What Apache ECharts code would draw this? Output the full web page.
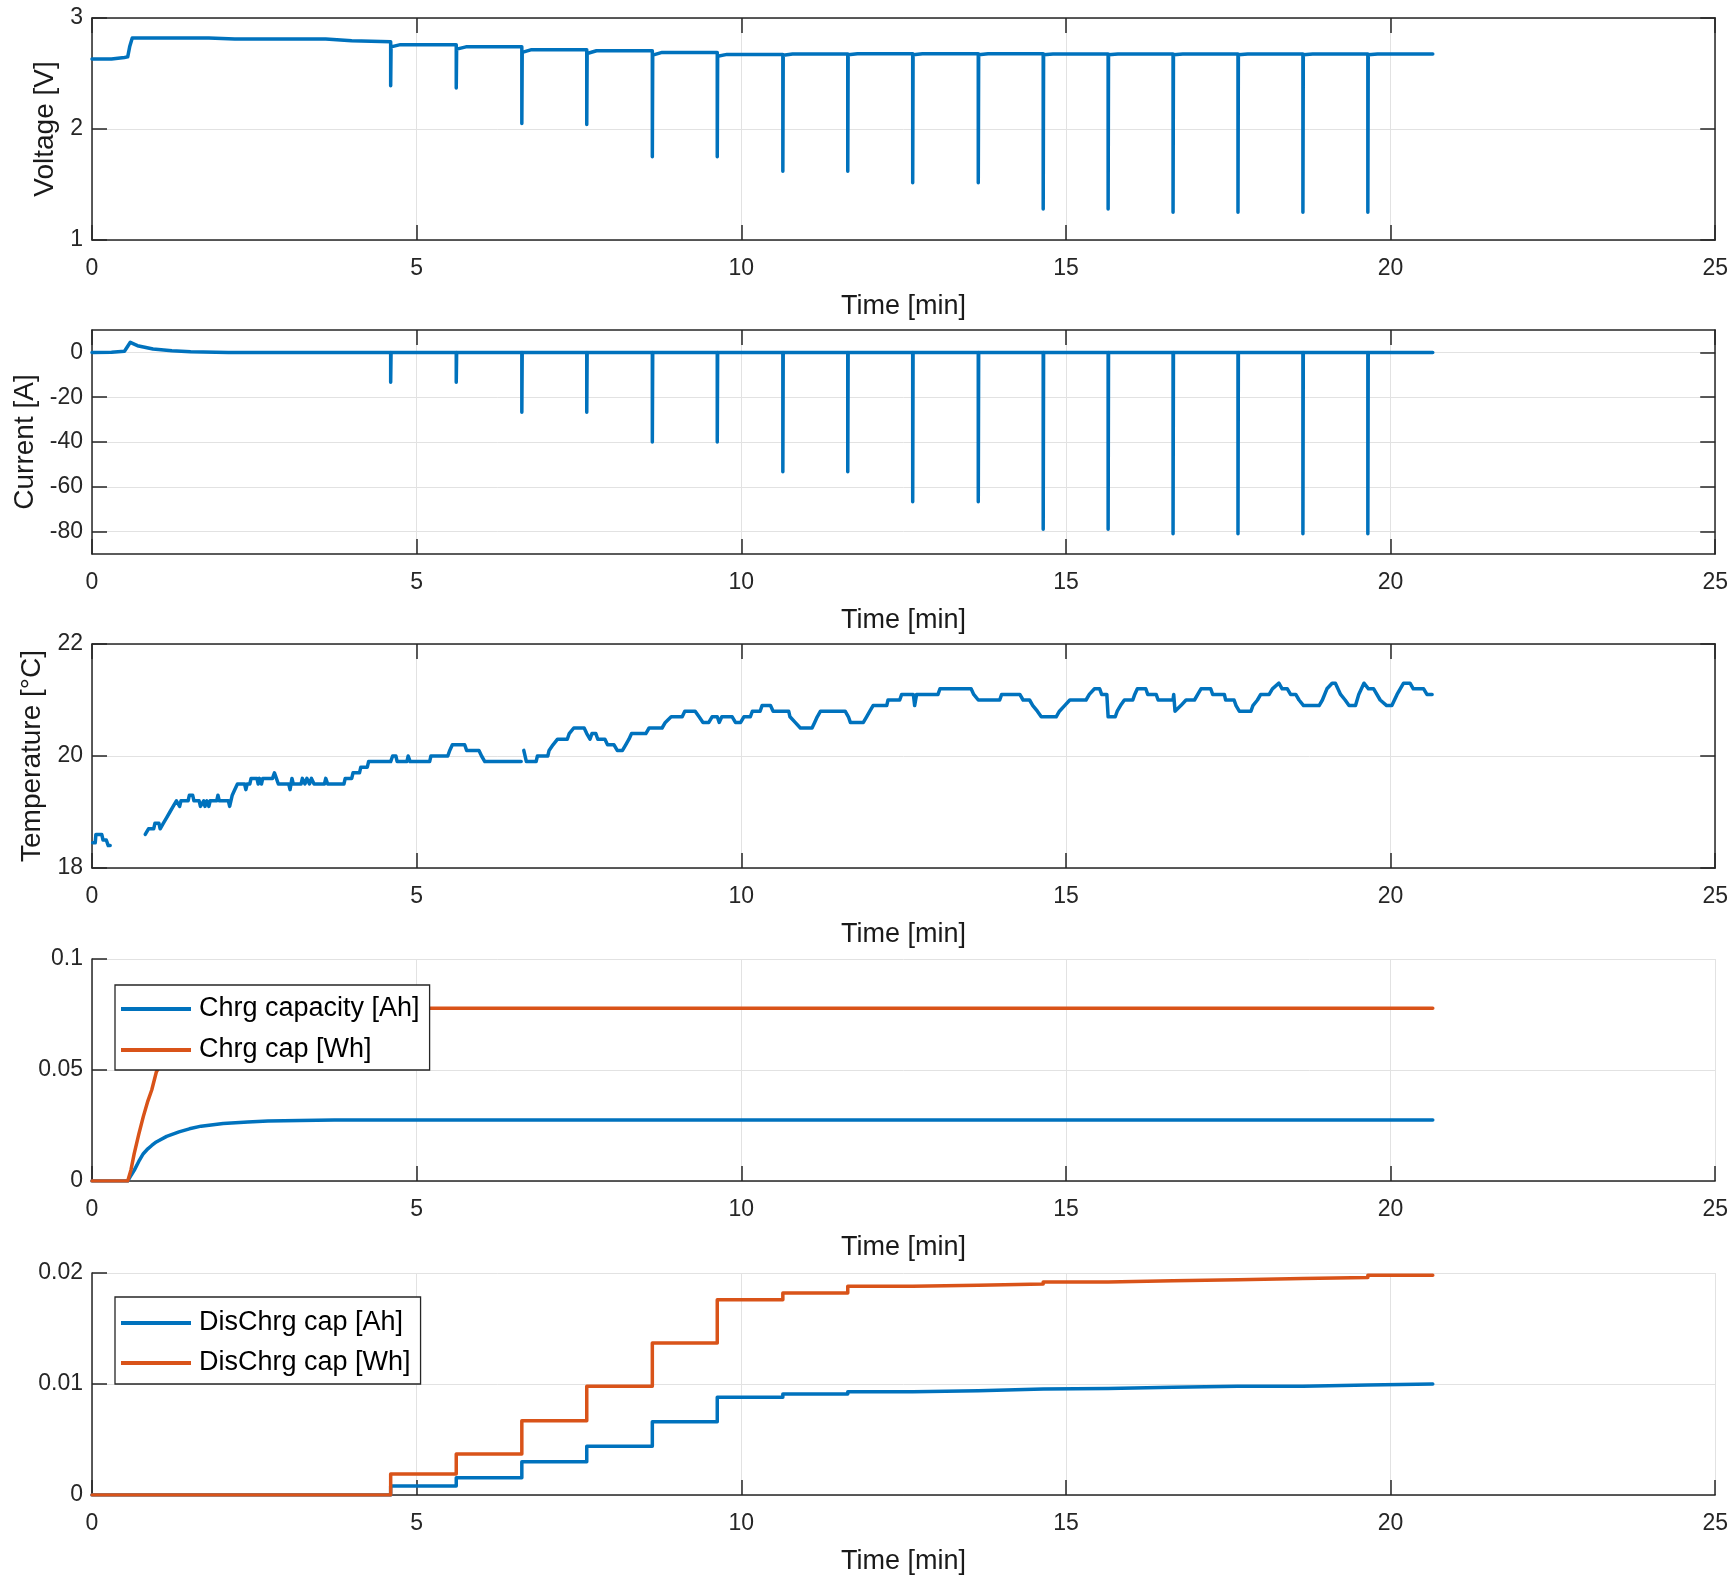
<!DOCTYPE html>
<html>
<head>
<meta charset="utf-8">
<script src="https://cdn.jsdelivr.net/npm/echarts@6/dist/echarts.min.js"></script>
<style>
  html, body { margin: 0; padding: 0; background: #ffffff; }
  #chart { width: 1731px; height: 1578px; }
</style>
</head>
<body>
<div id="chart"></div>
<script>
// ---- Pulse test log (time in minutes) ----
const endTime = 20.65;
const pulseTimes = [4.60, 5.61, 6.62, 7.62, 8.63, 9.63, 10.64, 11.64, 12.64, 13.65, 14.65, 15.65, 16.65, 17.65, 18.65, 19.65];

// Voltage [V]
const voltageStartTime  = [0, 0.30, 0.50, 0.55, 0.58, 0.62, 1.80, 2.20, 3.60, 4.00, 4.60];
const voltageStartValue = [2.63, 2.63, 2.645, 2.65, 2.74, 2.82, 2.82, 2.81, 2.81, 2.795, 2.785];
const voltagePulseMin   = [2.39, 2.37, 2.05, 2.04, 1.75, 1.75, 1.62, 1.62, 1.515, 1.515, 1.28, 1.28, 1.25, 1.25, 1.25, 1.25];
const voltageAfterPulse = [2.74, 2.72, 2.69, 2.68, 2.665, 2.655, 2.665, 2.668, 2.668, 2.668, 2.668, 2.668, 2.668, 2.668, 2.668, 2.668];
const voltageRest       = [2.76, 2.74, 2.715, 2.705, 2.69, 2.672, 2.676, 2.677, 2.677, 2.677, 2.676, 2.676, 2.676, 2.676, 2.676, 2.676];

// Current [A]
const currentStartTime  = [0, 0.30, 0.50, 0.53, 0.59, 0.70, 0.94, 1.23, 1.52, 2.10, 4.60];
const currentStartValue = [0, 0.1, 0.5, 0.6, 4.5, 3.0, 1.5, 0.75, 0.3, 0, 0];
const currentPulseMin   = [-13.3, -13.3, -26.7, -26.7, -40, -40, -53.3, -53.3, -66.7, -66.7, -79, -79, -81, -81, -81, -81];
const currentTicks      = [-80, -60, -40, -20, 0];

// Temperature [°C] readings as [time, value]; null marks a logging gap
const temperatureReadings = [
  [0.01,18.45],[0.05,18.45],[0.06,18.6],[0.15,18.6],[0.17,18.5],[0.22,18.5],[0.25,18.4],[0.28,18.4],
  [0.55,null],
  [0.82,18.6],[0.85,18.6],[0.87,18.7],[0.95,18.7],[0.97,18.8],[1.03,18.8],[1.05,18.7],[1.08,18.7],[1.10,18.8],[1.13,18.8],
  [1.15,18.9],[1.18,18.9],[1.20,19.0],[1.23,19.0],[1.25,19.1],[1.28,19.1],[1.30,19.2],[1.33,19.2],[1.35,19.1],[1.37,19.2],
  [1.48,19.2],[1.50,19.3],[1.55,19.3],[1.57,19.2],[1.65,19.2],[1.67,19.1],[1.70,19.1],[1.72,19.2],[1.74,19.1],[1.77,19.2],
  [1.80,19.1],[1.82,19.2],[1.92,19.2],[1.94,19.3],[1.96,19.2],[2.10,19.2],[2.12,19.1],[2.14,19.1],[2.16,19.3],[2.20,19.4],
  [2.24,19.5],[2.35,19.5],[2.37,19.4],[2.39,19.5],[2.43,19.5],[2.45,19.6],[2.54,19.6],[2.56,19.5],[2.58,19.6],[2.61,19.5],
  [2.63,19.6],[2.78,19.6],[2.81,19.7],[2.84,19.6],[2.87,19.5],[3.03,19.5],[3.05,19.4],[3.08,19.6],[3.10,19.5],[3.22,19.5],
  [3.24,19.6],[3.28,19.5],[3.31,19.6],[3.35,19.5],[3.38,19.6],[3.42,19.5],[3.58,19.5],[3.60,19.6],[3.63,19.5],[3.88,19.5],
  [3.90,19.6],[4.00,19.6],[4.02,19.7],[4.12,19.7],[4.14,19.8],[4.24,19.8],[4.26,19.9],[4.60,19.9],[4.63,20.0],[4.68,20.0],
  [4.70,19.9],[4.85,19.9],[4.87,20.0],[4.90,19.9],[5.20,19.9],[5.22,20.0],[5.48,20.0],[5.51,20.1],[5.55,20.2],[5.74,20.2],
  [5.77,20.1],[5.96,20.1],[6.00,20.0],[6.05,19.9],[6.61,19.9],
  [6.63,null],
  [6.65,20.1],[6.69,19.9],[6.84,19.9],[6.86,20.0],[7.02,20.0],[7.04,20.1],[7.10,20.2],[7.17,20.3],[7.32,20.3],[7.35,20.4],
  [7.42,20.5],[7.58,20.5],[7.62,20.4],[7.67,20.3],[7.70,20.4],[7.76,20.4],[7.79,20.3],[7.90,20.3],[7.94,20.2],[8.04,20.2],
  [8.09,20.1],[8.17,20.1],[8.22,20.2],[8.27,20.3],[8.31,20.4],[8.53,20.4],[8.58,20.5],[8.78,20.5],[8.83,20.6],[8.92,20.7],
  [9.09,20.7],[9.13,20.8],[9.29,20.8],[9.35,20.7],[9.41,20.6],[9.50,20.6],[9.55,20.7],[9.63,20.7],[9.66,20.6],[9.70,20.7],
  [9.86,20.7],[9.91,20.6],[9.99,20.6],[10.04,20.7],[10.14,20.7],[10.17,20.8],[10.29,20.8],[10.32,20.9],[10.45,20.9],[10.49,20.8],
  [10.73,20.8],[10.75,20.7],[10.83,20.6],[10.91,20.5],[11.09,20.5],[11.13,20.6],[11.17,20.7],[11.22,20.8],[11.60,20.8],[11.65,20.7],
  [11.68,20.6],[11.88,20.6],[11.93,20.7],[11.98,20.8],[12.03,20.9],[12.24,20.9],[12.26,21.0],[12.44,21.0],[12.47,21.1],[12.65,21.1],
  [12.67,20.9],[12.70,21.1],[13.03,21.1],[13.06,21.2],[13.54,21.2],[13.58,21.1],[13.65,21.0],[13.98,21.0],[14.01,21.1],[14.29,21.1],
  [14.34,21.0],[14.44,21.0],[14.49,20.9],[14.56,20.8],[14.62,20.7],[14.85,20.7],[14.90,20.8],[14.98,20.9],[15.06,21.0],[15.31,21.0],
  [15.36,21.1],[15.44,21.2],[15.52,21.2],[15.55,21.1],[15.63,21.1],[15.65,20.7],[15.76,20.7],[15.79,20.8],[15.84,20.9],[15.90,21.0],
  [16.03,21.0],[16.06,21.1],[16.10,21.2],[16.23,21.2],[16.26,21.1],[16.39,21.1],[16.42,21.0],[16.65,21.0],[16.66,21.1],[16.68,20.8],
  [16.77,20.9],[16.85,21.0],[16.98,21.0],[17.03,21.1],[17.08,21.2],[17.23,21.2],[17.26,21.1],[17.44,21.1],[17.46,21.0],[17.59,21.0],
  [17.62,20.9],[17.67,20.8],[17.85,20.8],[17.88,20.9],[17.95,21.0],[18.00,21.1],[18.13,21.1],[18.18,21.2],[18.28,21.3],[18.33,21.2],
  [18.41,21.2],[18.46,21.1],[18.54,21.1],[18.59,21.0],[18.66,20.9],[18.90,20.9],[18.95,21.0],[19.02,21.2],[19.10,21.3],[19.15,21.3],
  [19.23,21.1],[19.30,21.0],[19.36,20.9],[19.46,20.9],[19.51,21.1],[19.59,21.3],[19.66,21.2],[19.74,21.2],[19.84,21.0],[19.94,20.9],
  [20.02,20.9],[20.10,21.1],[20.20,21.3],[20.30,21.3],[20.35,21.2],[20.51,21.2],[20.56,21.1],[20.64,21.1]
];

// Charge capacity
const chrgTime = [0, 0.55, 0.60, 0.65, 0.72, 0.79, 0.86, 0.92, 0.99, 1.15, 1.34, 1.50, 1.68, 2.02, 2.40, 2.71, 3.20, 3.73, 20.65];
const chrgAh   = [0, 0, 0.0025, 0.0048, 0.0088, 0.0123, 0.0145, 0.0160, 0.0176, 0.0201, 0.0221, 0.0235, 0.0247, 0.0259, 0.0266, 0.0270, 0.0273, 0.0275, 0.0275];
const chrgWh   = [0, 0, 0.0050, 0.0123, 0.0210, 0.0290, 0.0360, 0.0410, 0.0490, 0.0570, 0.0628, 0.0667, 0.0701, 0.0736, 0.0755, 0.0767, 0.0775, 0.0778, 0.0778];

// Discharge capacity, level reached after each pulse
const dischrgTime = [0, 4.60, 5.61, 6.62, 7.62, 8.63, 9.63, 10.64, 11.64, 12.64, 13.65, 14.65, 15.65, 16.65, 17.65, 18.65, 19.65, 20.65];
const dischrgAh   = [0, 0.0008, 0.00156, 0.0030, 0.0044, 0.0066, 0.0088, 0.0091, 0.0093, 0.0094, 0.00955, 0.0096, 0.0097, 0.0098, 0.0098, 0.0099, 0.0100, 0.0100];
const dischrgWh   = [0, 0.0019, 0.0037, 0.0067, 0.0098, 0.0137, 0.0176, 0.0182, 0.0188, 0.0189, 0.0190, 0.0192, 0.0193, 0.0194, 0.0195, 0.0196, 0.0198, 0.0198];

// ---- Series builders ----
const PULSE_WIDTH = 0.006;   // pulses last well under a second
const RELAX_TIME = 0.15;

function voltageSeriesData() {
  const pts = voltageStartTime.map((t, i) => [t, voltageStartValue[i]]);
  pulseTimes.forEach((t, i) => {
    const next = i + 1 < pulseTimes.length ? pulseTimes[i + 1] : endTime;
    pts.push([t, voltagePulseMin[i]]);
    pts.push([t + PULSE_WIDTH, voltagePulseMin[i]]);
    pts.push([t + PULSE_WIDTH, voltageAfterPulse[i]]);
    pts.push([t + RELAX_TIME, voltageRest[i]]);
    pts.push([next, voltageRest[i]]);
  });
  return pts;
}

function currentSeriesData() {
  const pts = currentStartTime.map((t, i) => [t, currentStartValue[i]]);
  pulseTimes.forEach((t, i) => {
    const next = i + 1 < pulseTimes.length ? pulseTimes[i + 1] : endTime;
    pts.push([t, currentPulseMin[i]]);
    pts.push([t + PULSE_WIDTH, currentPulseMin[i]]);
    pts.push([t + PULSE_WIDTH, 0]);
    pts.push([next, 0]);
  });
  return pts;
}

function pairs(xs, ys) { return xs.map((x, i) => [x, ys[i]]); }

function staircase(xs, ys) {
  const pts = [[xs[0], ys[0]]];
  for (let i = 1; i < xs.length; i++) {
    pts.push([xs[i], ys[i - 1]]);
    pts.push([xs[i], ys[i]]);
  }
  return pts;
}

// ---- Styling ----
const FONT = "'Liberation Sans', Arial, Helvetica, sans-serif";
const AXIS_COLOR = '#262626';
const GRID_COLOR = '#e2e2e2';
const BLUE = '#0072BD';
const ORANGE = '#D95319';
const LINE_WIDTH = 3.5;

const panels = [
  { top: 18,   height: 222, min: 1,   max: 3,    interval: 1,    name: 'Voltage [V]',      nameGap: 33, box: true },
  { top: 330,  height: 224, min: -90, max: 10,   ticks: currentTicks, name: 'Current [A]', nameGap: 50, box: true },
  { top: 644,  height: 224, min: 18,  max: 22,   interval: 2,    name: 'Temperature [°C]', nameGap: 44, box: true },
  { top: 959,  height: 222, min: 0,   max: 0.1,  interval: 0.05, name: '', nameGap: 0, box: false },
  { top: 1273, height: 222, min: 0,   max: 0.02, interval: 0.01, name: '', nameGap: 0, box: false }
];

const lineStyleAxis = { color: AXIS_COLOR, width: 1.5 };
const tickStyle = { show: true, inside: true, length: 15, lineStyle: { color: AXIS_COLOR, width: 1.5 } };

const grid = [], xAxis = [], yAxis = [];
panels.forEach((p, i) => {
  grid.push({ left: 92, right: 11, top: p.top, height: p.height, containLabel: false });
  xAxis.push({
    type: 'value', gridIndex: i, min: 0, max: 25, interval: 5, position: 'bottom',
    axisLine: { show: true, onZero: false, lineStyle: lineStyleAxis },
    axisTick: tickStyle,
    axisLabel: { color: '#262626', fontSize: 23, fontFamily: FONT, margin: 17 },
    splitLine: { show: true, lineStyle: { color: GRID_COLOR, width: 1 } },
    name: 'Time [min]', nameLocation: 'middle', nameGap: 53,
    nameTextStyle: { color: '#1a1a1a', fontSize: 27, fontFamily: FONT }
  });
  const y = {
    type: 'value', gridIndex: i, min: p.min, max: p.max, position: 'left',
    axisLine: { show: true, onZero: false, lineStyle: lineStyleAxis },
    axisTick: Object.assign({}, tickStyle),
    axisLabel: { color: '#262626', fontSize: 23, fontFamily: FONT, margin: 9 },
    splitLine: { show: true, lineStyle: { color: GRID_COLOR, width: 1 } },
    name: p.name, nameLocation: 'middle', nameRotate: 90, nameGap: p.nameGap,
    nameTextStyle: { color: '#1a1a1a', fontSize: 28, fontFamily: FONT }
  };
  if (p.ticks) {
    y.axisTick = Object.assign({}, tickStyle, { customValues: p.ticks });
    y.axisLabel = Object.assign({}, y.axisLabel, { customValues: p.ticks });
  } else {
    y.interval = p.interval;
  }
  yAxis.push(y);
});

// Box outline with inward ticks on the top and right of the first three panels
panels.forEach((p, i) => {
  if (!p.box) return;
  xAxis.push({
    type: 'value', gridIndex: i, min: 0, max: 25, interval: 5, position: 'top',
    axisLine: { show: true, onZero: false, lineStyle: lineStyleAxis },
    axisTick: tickStyle, axisLabel: { show: false }, splitLine: { show: false }
  });
  const y = {
    type: 'value', gridIndex: i, min: p.min, max: p.max, position: 'right',
    axisLine: { show: true, onZero: false, lineStyle: lineStyleAxis },
    axisTick: Object.assign({}, tickStyle), axisLabel: { show: false }, splitLine: { show: false }
  };
  if (p.ticks) {
    y.axisTick = Object.assign({}, tickStyle, { customValues: p.ticks });
    y.axisLabel = { show: false, customValues: p.ticks };
  } else {
    y.interval = p.interval;
  }
  yAxis.push(y);
});

function lineSeries(name, idx, data, color) {
  return {
    name: name, type: 'line', xAxisIndex: idx, yAxisIndex: idx, data: data,
    showSymbol: false, symbol: 'none', color: color, connectNulls: false,
    lineStyle: { color: color, width: LINE_WIDTH, cap: 'round', join: 'round' },
    animation: false, z: 3
  };
}

const series = [
  lineSeries('Voltage', 0, voltageSeriesData(), BLUE),
  lineSeries('Current', 1, currentSeriesData(), BLUE),
  lineSeries('Temperature', 2, temperatureReadings, BLUE),
  lineSeries('Chrg capacity [Ah]', 3, pairs(chrgTime, chrgAh), BLUE),
  lineSeries('Chrg cap [Wh]', 3, pairs(chrgTime, chrgWh), ORANGE),
  lineSeries('DisChrg cap [Ah]', 4, staircase(dischrgTime, dischrgAh), BLUE),
  lineSeries('DisChrg cap [Wh]', 4, staircase(dischrgTime, dischrgWh), ORANGE)
];

function legendBox(names, top, padding, gap) {
  return {
    data: names, orient: 'vertical', left: 115, top: top,
    padding: padding, itemGap: gap, itemWidth: 70, itemHeight: 4, icon: 'rect',
    backgroundColor: '#ffffff', borderColor: AXIS_COLOR, borderWidth: 1.3, borderRadius: 0,
    selectedMode: false, z: 10,
    textStyle: { fontSize: 27, fontFamily: FONT, color: '#000000', lineHeight: 30, padding: [0, 0, 0, 3] }
  };
}

const chart = echarts.init(document.getElementById('chart'), null, { renderer: 'canvas' });
chart.setOption({
  backgroundColor: '#ffffff',
  animation: false,
  grid: grid,
  xAxis: xAxis,
  yAxis: yAxis,
  legend: [
    legendBox(['Chrg capacity [Ah]', 'Chrg cap [Wh]'], 985, [9, 10, 5, 6], 11),
    legendBox(['DisChrg cap [Ah]', 'DisChrg cap [Wh]'], 1297, [11, 10, 6, 6], 10)
  ],
  series: series
});
</script>
</body>
</html>
